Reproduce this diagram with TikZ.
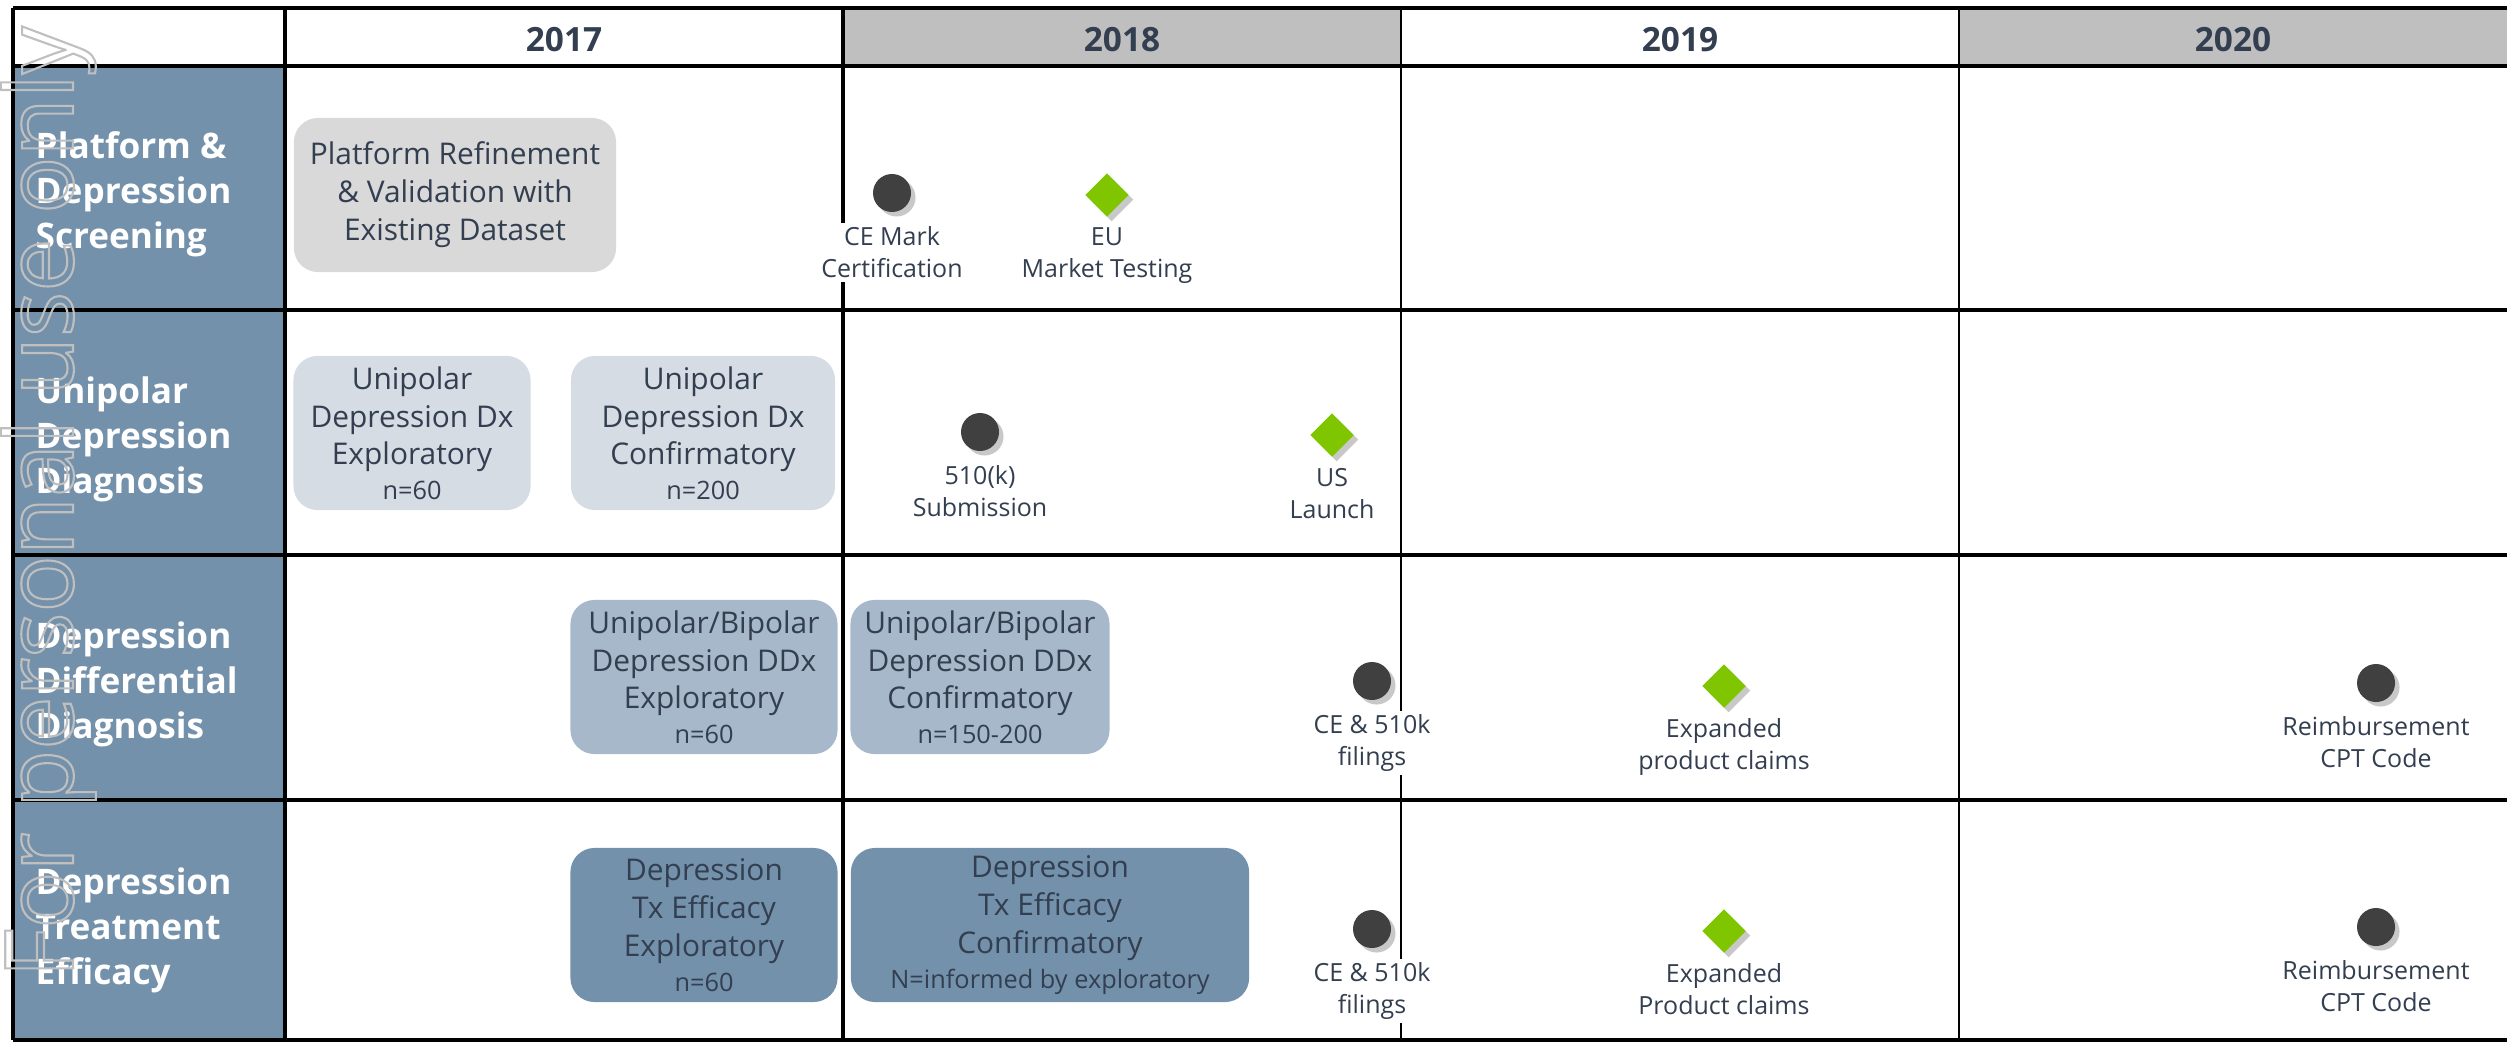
\documentclass[tikz,border=0pt]{standalone}
\usepackage{fontspec}
\setmainfont{Open Sans}
\usetikzlibrary{positioning,shapes.geometric,shadows}
\definecolor{slate}{HTML}{333F50}
\definecolor{steel}{HTML}{7391AB}
\definecolor{hdgray}{HTML}{BFBFBF}
\definecolor{boxgray}{HTML}{D9D9D9}
\definecolor{boxpale}{HTML}{D6DCE4}
\definecolor{boxmid}{HTML}{A6B8C9}
\definecolor{dotgray}{HTML}{404040}
\definecolor{gemgreen}{HTML}{7FC500}
\definecolor{shade}{HTML}{C8C8C8}
\newcommand{\smallnum}[1]{{\fontsize{7.2}{9}\selectfont #1}}

\begin{document}
\begin{tikzpicture}[x=0.01cm,y=-0.01cm,
  yearhd/.style={font=\fontsize{9.5}{11}\selectfont\bfseries, text=slate},
  rowhd/.style={anchor=west, align=left, text=white, inner sep=0pt,
    font=\fontsize{10}{12.8}\selectfont\bfseries},
  task/.style={rounded corners=0.24cm, align=center, text=slate, inner sep=0pt,
    font=\fontsize{8.5}{10.8}\selectfont, minimum height=1.54cm},
  dot/.style={circle, fill=dotgray, minimum size=0.38cm, inner sep=0pt,
    drop shadow={shadow xshift=0.045cm, shadow yshift=-0.045cm, fill=shade, opacity=1}},
  gem/.style={diamond, fill=gemgreen, minimum width=0.44cm, minimum height=0.44cm, inner sep=0pt,
    drop shadow={shadow xshift=0.045cm, shadow yshift=-0.045cm, fill=shade, opacity=1}},
  mlab/.style={fill=white, align=center, text=slate, inner sep=1pt,
    font=\fontsize{7.1}{9.1}\selectfont},
  rule/.style={line width=0.035cm, black},
  hair/.style={line width=0.012cm, black}]

\useasboundingbox (0,0) rectangle (2507,1042);

% background fills
\fill[steel] (13,66) rectangle (285,1040);
\fill[hdgray] (843,8) rectangle (1401,66);
\fill[hdgray] (1959,8) rectangle (2507,66);

% grid
\foreach \y in {8,66,310,555,800,1040}
  \draw[rule] (13,\y) -- (2507,\y);
\foreach \x in {13,285,843}
  \draw[rule] (\x,8) -- (\x,1040);
\foreach \x in {1401,1959}
  \draw[hair] (\x,8) -- (\x,1040);

% years
\node[yearhd] (y17) at (564,40) {2017};
\node[yearhd] (y18) at (1122,40) {2018};
\node[yearhd] (y19) at (1680,40) {2019};
\node[yearhd] (y20) at (2233,40) {2020};

% rows
\node[rowhd] (plat) at (35,194) {Platform \&\\Depression\\Screening};
\node[rowhd] (uni) at (35,439) {Unipolar\\Depression\\Diagnosis};
\node[rowhd] (diff) at (35,684) {Depression\\Differential\\Diagnosis};
\node[rowhd] (treat) at (35,930) {Depression\\Treatment\\Efficacy};

% studies
\node[task, fill=boxgray, minimum width=3.22cm] (refine) at (455,195)
  {Platform Refinement\\\& Validation with\\Existing Dataset};
\node[task, fill=boxpale, minimum width=2.37cm] (uniexp) at (412,433)
  {Unipolar\\Depression Dx\\Exploratory\\[-1pt]\smallnum{n=60}};
\node[task, fill=boxpale, minimum width=2.64cm] (uniconf) at (703,433)
  {Unipolar\\Depression Dx\\Confirmatory\\[-1pt]\smallnum{n=200}};
\node[task, fill=boxmid, minimum width=2.67cm] (ddxexp) at (704,677)
  {Unipolar/Bipolar\\Depression DDx\\Exploratory\\[-1pt]\smallnum{n=60}};
\node[task, fill=boxmid, minimum width=2.59cm] (ddxconf) at (980,677)
  {Unipolar/Bipolar\\Depression DDx\\Confirmatory\\[-1pt]\smallnum{n=150-200}};
\node[task, fill=steel, minimum width=2.67cm] (txexp) at (704,925)
  {Depression\\Tx Efficacy\\Exploratory\\[-1pt]\smallnum{n=60}};
\node[task, fill=steel, minimum width=3.98cm] (txconf) at (1050,925)
  {Depression\\Tx Efficacy\\Confirmatory\\[-1pt]\smallnum{N=informed by exploratory}};

% milestones
\node[dot] (ce) at (892,193) {};
\node[mlab] (ce-t) [below=0.1cm of ce] {CE Mark\\Certification};
\node[gem] (eu) at (1107,195) {};
\node[mlab] (eu-t) [below=0.06cm of eu] {EU\\Market Testing};
\node[dot] (sub) at (980,432) {};
\node[mlab] (sub-t) [below=0.1cm of sub] {510(k)\\Submission};
\node[gem] (us) at (1332,435) {};
\node[mlab] (us-t) [below=0.06cm of us] {US\\Launch};
\node[dot] (fil3) at (1372,681) {};
\node[mlab] (fil3-t) [below=0.1cm of fil3] {CE \& 510k\\filings};
\node[gem] (exp3) at (1724,686) {};
\node[mlab] (exp3-t) [below=0.06cm of exp3] {Expanded\\product claims};
\node[dot] (cpt3) at (2376,683) {};
\node[mlab] (cpt3-t) [below=0.1cm of cpt3] {Reimbursement\\CPT Code};
\node[dot] (fil4) at (1372,929) {};
\node[mlab] (fil4-t) [below=0.1cm of fil4] {CE \& 510k\\filings};
\node[gem] (exp4) at (1724,931) {};
\node[mlab] (exp4-t) [below=0.06cm of exp4] {Expanded\\Product claims};
\node[dot] (cpt4) at (2376,927) {};
\node[mlab] (cpt4-t) [below=0.1cm of cpt4] {Reimbursement\\CPT Code};

% watermark
\node[rotate=90, anchor=base, text=black!25, line width=0.6pt, inner sep=0pt,
  font=\fontsize{27}{27}\selectfont] (wm) at (73,502)
  {\special{pdf:literal direct 1 Tr}For personal use only\special{pdf:literal direct 0 Tr}};
\end{tikzpicture}
\end{document}
